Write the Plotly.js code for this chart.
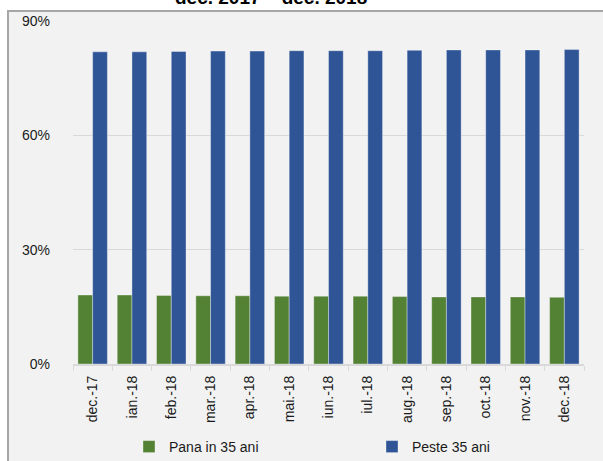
<!DOCTYPE html>
<html>
<head>
<meta charset="utf-8">
<script src="https://cdn.plot.ly/plotly-3.0.1.min.js"></script>
<style>html,body{margin:0;padding:0;background:#fff;}#chart{width:603px;height:461px;}</style>
</head>
<body>
<div id="chart"></div>
<script>
const categories = ["dec.-17","ian.-18","feb.-18","mar.-18","apr.-18","mai.-18","iun.-18","iul.-18","aug.-18","sep.-18","oct.-18","nov.-18","dec.-18"];
const panaIn35 = [18.1,18.1,18.0,17.9,17.9,17.8,17.8,17.8,17.7,17.6,17.6,17.6,17.5];
const peste35 = [81.9,81.9,82.0,82.1,82.1,82.2,82.2,82.2,82.3,82.4,82.4,82.4,82.5];
const yTicks = [0,30,60,90];
const yTickText = ["0%","30%","60%","90%"];
const titleText = "dec. 2017 – dec. 2018";

const font = "Liberation Sans, Arial, sans-serif";
const traces = [
  {type:'bar', name:'Pana in 35 ani', x:categories, y:panaIn35,
   marker:{color:'#548235', line:{color:'rgba(255,255,255,0.35)', width:1}}},
  {type:'bar', name:'Peste 35 ani', x:categories, y:peste35,
   marker:{color:'#2F5597', line:{color:'rgba(255,255,255,0.35)', width:1}}}
];
const layout = {
  width:603, height:461,
  margin:{l:73, r:19, t:21, b:97, autoexpand:false},
  paper_bgcolor:'#ffffff', plot_bgcolor:'rgba(0,0,0,0)',
  font:{family:font, size:14, color:'#1a1a1a'},
  barmode:'group', bargap:0.25, bargroupgap:0,
  showlegend:true,
  legend:{orientation:'h', xref:'container', yref:'container', x:129/603, xanchor:'left',
          y:(461-447)/461, yanchor:'middle',
          entrywidth:198, entrywidthmode:'pixels', bgcolor:'rgba(0,0,0,0)',
          font:{family:font, size:14, color:'#1a1a1a'}},
  xaxis:{type:'category', tickangle:-90, showgrid:false, showline:true, linecolor:'#d9d9d9', linewidth:2,
         ticks:'outside', tickson:'boundaries', ticklen:5, tickcolor:'#d9d9d9', tickwidth:1,
         ticklabelstandoff:4,
         tickfont:{family:font, size:14, color:'#1a1a1a'}, zeroline:false, fixedrange:true, automargin:false},
  yaxis:{range:[0,90], tickvals:yTicks, ticktext:yTickText, showgrid:true, gridcolor:'#d9d9d9', gridwidth:1,
         zeroline:false, showline:false, ticks:'', ticklabelstandoff:22, automargin:false,
         tickfont:{family:font, size:14, color:'#1a1a1a'}},
  shapes:[{type:'rect', xref:'paper', yref:'paper', x0:-0.1272, x1:1.2, y0:-0.5, y1:1.0292,
           fillcolor:'#f2f2f2', line:{color:'#a6a6a6', width:2}, layer:'below'}],
  annotations:[{text:'<b>'+titleText+'</b>', xref:'paper', yref:'paper', x:(271-73)/511, y:1.069,
                xanchor:'center', yanchor:'middle', showarrow:false,
                font:{family:font, size:19, color:'#000'}}]
};
Plotly.newPlot('chart', traces, layout, {displayModeBar:false, staticPlot:true});
</script>
</body>
</html>
